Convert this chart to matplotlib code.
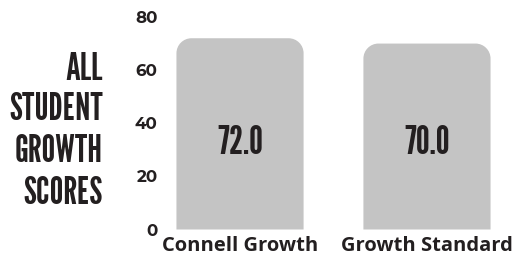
import matplotlib
matplotlib.use("Agg")
import matplotlib.pyplot as plt
from matplotlib.path import Path
from matplotlib.patches import PathPatch
from matplotlib import font_manager

categories = ["Connell Growth", "Growth Standard"]
values = [72.0, 70.0]
yticks = [0, 20, 40, 60, 80]
ylabel_lines = ["ALL", "STUDENT", "GROWTH", "SCORES"]

names = {f.name for f in font_manager.fontManager.ttflist}
def pick(*cands):
    for c in cands:
        if c in names:
            return c
    return "DejaVu Sans"
gothic = pick("League Gothic", "Bebas Neue", "Oswald")
ytickfont = pick("Montserrat Alternates", "Open Sans")
xtickfont = pick("Open Sans", "PT Sans")

W, H = 517, 264
fig = plt.figure(figsize=(W / 100, H / 100), dpi=100)
ax = fig.add_axes([161.5 / W, 34.5 / H, 344 / W, 212.5 / H])

bar_color = "#c4c4c4"
txt_color = "#231f20"
width = 0.68
bars = ax.bar(range(len(values)), values, width=width, color=bar_color)
ax.set_xlim(-0.42, 1.42)
ax.set_ylim(0, 80)

# replace rectangles with rounded-top shapes
fig.canvas.draw()
xpx = ax.transData.transform([(0, 0), (1, 0)])
ypx = ax.transData.transform([(0, 0), (0, 1)])
rpx = 15
rx = rpx / (xpx[1][0] - xpx[0][0])
ry = rpx / (ypx[1][1] - ypx[0][1])
k = 0.5523
for rect in bars:
    x0, y0 = rect.get_x(), rect.get_y()
    w, h = rect.get_width(), rect.get_height()
    x1, y1 = x0 + w, y0 + h
    verts = [
        (x0, y0), (x0, y1 - ry),
        (x0, y1 - ry + k * ry), (x0 + rx - k * rx, y1), (x0 + rx, y1),
        (x1 - rx, y1),
        (x1 - rx + k * rx, y1), (x1, y1 - ry + k * ry), (x1, y1 - ry),
        (x1, y0), (x0, y0),
    ]
    codes = [Path.MOVETO, Path.LINETO,
             Path.CURVE4, Path.CURVE4, Path.CURVE4,
             Path.LINETO,
             Path.CURVE4, Path.CURVE4, Path.CURVE4,
             Path.LINETO, Path.CLOSEPOLY]
    rect.set_visible(False)
    ax.add_patch(PathPatch(Path(verts, codes), facecolor=bar_color, edgecolor="none"))
    ax.text(rect.get_x() + w / 2, 32.5, f"{rect.get_height():.1f}", ha="center", va="center",
            fontsize=28, family=gothic, color=txt_color)

for s in ax.spines.values():
    s.set_visible(False)
ax.set_yticks(yticks)
ax.set_yticklabels([str(t) for t in yticks], family=ytickfont, fontweight="bold",
                   fontsize=12, color=txt_color)
ax.set_xticks(range(len(categories)))
ax.set_xticklabels(categories, family=xtickfont, fontweight="bold", fontsize=14.5, color=txt_color)
ax.tick_params(axis="both", length=0)
ax.tick_params(axis="y", pad=3)
ax.tick_params(axis="x", pad=5)

ys = [69, 109, 151, 193]
for line, yy in zip(ylabel_lines, ys):
    fig.text(103 / W, 1 - yy / H, line, ha="right", va="center", family=gothic,
             fontsize=27.5, color=txt_color)

fig.savefig("out.png", dpi=100)
